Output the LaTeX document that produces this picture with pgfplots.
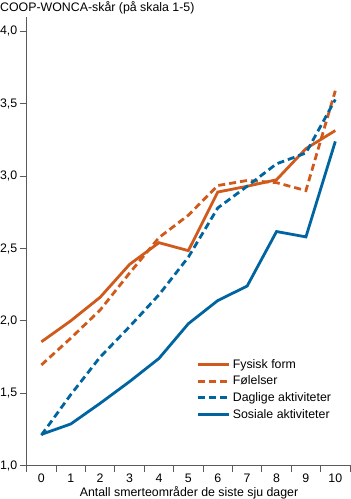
\documentclass[border=0pt]{standalone}
\usepackage{fontspec}
\setmainfont{Liberation Sans}
\usepackage{pgfplots}
\pgfplotsset{compat=1.18}
\definecolor{cor}{RGB}{207,90,28}
\definecolor{cbl}{RGB}{0,100,160}
\definecolor{cax}{RGB}{90,90,90}
\newcommand{\lf}{\fontsize{12.4}{14.5}\selectfont}
\begin{document}
\begin{tikzpicture}[x=1bp,y=1bp]
\path[use as bounding box] (0,0) rectangle (350,499);
\begin{axis}[at={(26.7bp,33.5bp)}, anchor=south west, scale only axis,
  width=323.3bp, height=448.5bp,
  xmin=-0.5, xmax=10.5, ymin=1, ymax=4.1,
  axis x line*=bottom, axis y line*=left,
  axis line style={cax, line width=1.1bp, -},
  xtick={0,1,...,10}, minor xtick={-0.5,0.5,...,10.5},
  major x tick style={draw=none},
  ytick={1,1.5,...,4},
  tick align=outside, major tick length=7bp, minor tick length=6bp,
  tick style={cax, line width=1bp},
  /pgf/number format/assume math mode=true,
  ticklabel style={font=\lf},
  x tick label style={yshift=2.5bp},
  y tick label style={xshift=1bp, /pgf/number format/.cd, use comma, fixed, fixed zerofill, precision=1},
  legend style={at={(0.517,0.246)}, anchor=north west, draw=none, fill=none, font=\lf, row sep=2.2bp},
  legend cell align=left,
  legend image code/.code={\draw[#1] (0bp,0bp) -- (31bp,0bp);},
  every axis plot/.append style={line width=2.8bp},
]
\addplot[cor, solid] coordinates {(0,1.855) (1,2.0) (2,2.163) (3,2.39) (4,2.54) (5,2.485) (6,2.89) (7,2.93) (8,2.975) (9,3.19) (10,3.315)};
\addlegendentry{Fysisk form}
\addplot[cor, dash pattern=on 7bp off 4bp] coordinates {(0,1.695) (1,1.88) (2,2.075) (3,2.33) (4,2.575) (5,2.73) (6,2.935) (7,2.97) (8,2.955) (9,2.9) (10,3.59)};
\addlegendentry{Følelser}
\addplot[cbl, dash pattern=on 7bp off 4bp] coordinates {(0,1.21) (1,1.49) (2,1.75) (3,1.96) (4,2.18) (5,2.44) (6,2.78) (7,2.93) (8,3.085) (9,3.16) (10,3.53)};
\addlegendentry{Daglige aktiviteter}
\addplot[cbl, solid] coordinates {(0,1.215) (1,1.287) (2,1.43) (3,1.58) (4,1.74) (5,1.98) (6,2.14) (7,2.24) (8,2.617) (9,2.58) (10,3.24)};
\addlegendentry{Sosiale aktiviteter}
\end{axis}
\node[anchor=base west, inner sep=0pt, font=\lf] at (0,487) {COOP-WONCA-skår (på skala 1-5)};
\node[anchor=base, inner sep=0pt, font=\lf] at (189,2.3) {Antall smerteområder de siste sju dager};
\end{tikzpicture}
\end{document}
